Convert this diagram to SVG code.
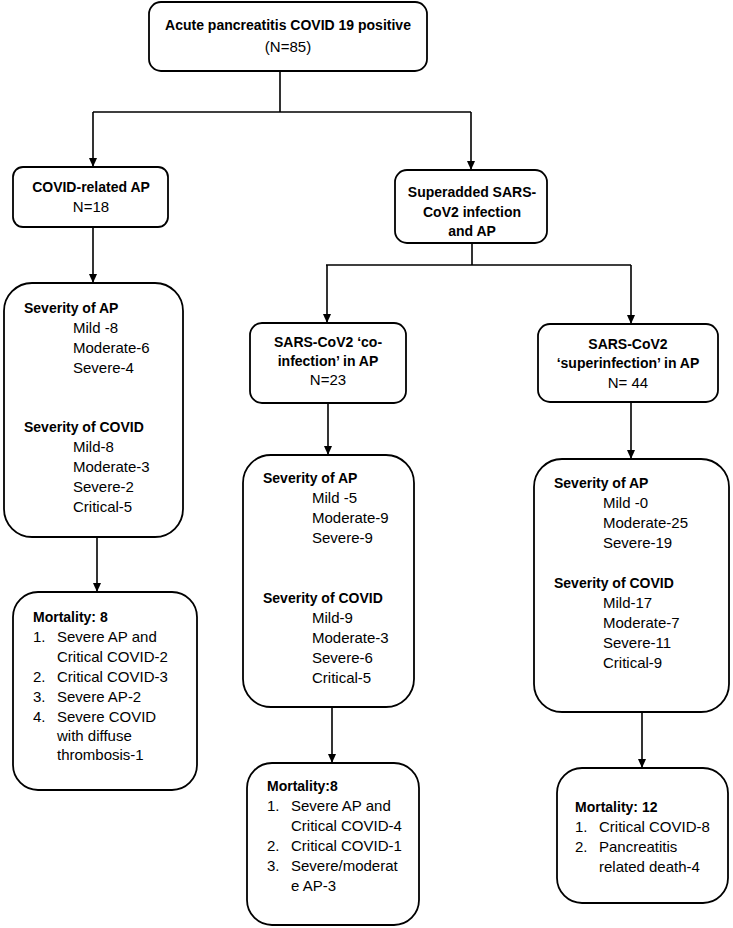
<svg xmlns="http://www.w3.org/2000/svg" width="733" height="928" viewBox="0 0 733 928">
<defs>
<marker id="arr" markerWidth="10" markerHeight="10" refX="9" refY="5" orient="auto" markerUnits="userSpaceOnUse">
<path d="M0,1 L9,5 L0,9 Z" fill="#000"/>
</marker>
<style>
.box{fill:#fff;stroke:#000;stroke-width:1.8}
.ln{fill:none;stroke:#000;stroke-width:1.6}
text{font-family:"Liberation Sans",Arial,sans-serif;font-size:15px;fill:#000}
.b{font-weight:bold;font-size:14px}
.c{text-anchor:middle}
</style>
</defs>
<rect width="733" height="928" fill="#fff"/>
<g id="connectors">
<path class="ln" d="M280,71 V112 M93,112 H471 M472,243 V265 M326,265 H631"/>
<path class="ln" marker-end="url(#arr)" d="M93,112 V167"/>
<path class="ln" marker-end="url(#arr)" d="M471,112 V170"/>
<path class="ln" marker-end="url(#arr)" d="M93,227 V283"/>
<path class="ln" marker-end="url(#arr)" d="M97,537 V592"/>
<path class="ln" marker-end="url(#arr)" d="M327,265 V323"/>
<path class="ln" marker-end="url(#arr)" d="M631,265 V324"/>
<path class="ln" marker-end="url(#arr)" d="M328,403 V455"/>
<path class="ln" marker-end="url(#arr)" d="M332,707 V763"/>
<path class="ln" marker-end="url(#arr)" d="M631,402 V459"/>
<path class="ln" marker-end="url(#arr)" d="M642,712 V768"/>
</g>
<g id="top">
<rect class="box" x="149" y="2" width="278" height="69" rx="12"/>
<text class="b c" x="288" y="30">Acute pancreatitis COVID 19 positive</text>
<text class="c" x="288" y="52">(N=85)</text>
</g>
<g id="covid-related">
<rect class="box" x="13" y="167" width="155" height="60" rx="10"/>
<text class="b c" x="91" y="192">COVID-related AP</text>
<text class="c" x="91" y="212">N=18</text>
</g>
<g id="severity1">
<rect class="box" x="4" y="283" width="179" height="254" rx="28"/>
<text class="b" x="24" y="313">Severity of AP</text>
<text x="73" y="333">Mild -8</text>
<text x="73" y="353">Moderate-6</text>
<text x="73" y="373">Severe-4</text>
<text class="b" x="24" y="432">Severity of COVID</text>
<text x="73" y="452">Mild-8</text>
<text x="73" y="472">Moderate-3</text>
<text x="73" y="492">Severe-2</text>
<text x="73" y="512">Critical-5</text>
</g>
<g id="mortality1">
<rect class="box" x="13" y="592" width="184" height="198" rx="25"/>
<text class="b" x="33" y="622">Mortality: 8</text>
<text x="33" y="642">1.</text><text x="57" y="642">Severe AP and</text>
<text x="57" y="662">Critical COVID-2</text>
<text x="33" y="682">2.</text><text x="57" y="682">Critical COVID-3</text>
<text x="33" y="702">3.</text><text x="57" y="702">Severe AP-2</text>
<text x="33" y="722">4.</text><text x="57" y="722">Severe COVID</text>
<text x="57" y="741">with diffuse</text>
<text x="57" y="760">thrombosis-1</text>
</g>
<g id="superadded">
<rect class="box" x="395" y="170" width="152" height="73" rx="12"/>
<text class="b c" x="472" y="197">Superadded SARS-</text>
<text class="b c" x="472" y="217">CoV2 infection</text>
<text class="b c" x="472" y="236">and AP</text>
</g>
<g id="coinfection">
<rect class="box" x="250" y="323" width="156" height="80" rx="12"/>
<text class="b c" x="328" y="347">SARS-CoV2 ‘co-</text>
<text class="b c" x="328" y="366">infection’ in AP</text>
<text class="c" x="328" y="385">N=23</text>
</g>
<g id="severity2">
<rect class="box" x="243" y="455" width="171" height="252" rx="28"/>
<text class="b" x="263" y="483">Severity of AP</text>
<text x="312" y="503">Mild -5</text>
<text x="312" y="523">Moderate-9</text>
<text x="312" y="543">Severe-9</text>
<text class="b" x="263" y="603">Severity of COVID</text>
<text x="312" y="623">Mild-9</text>
<text x="312" y="643">Moderate-3</text>
<text x="312" y="663">Severe-6</text>
<text x="312" y="683">Critical-5</text>
</g>
<g id="mortality2">
<rect class="box" x="247" y="763" width="172" height="162" rx="25"/>
<text class="b" x="267" y="791">Mortality:8</text>
<text x="267" y="811">1.</text><text x="291" y="811">Severe AP and</text>
<text x="291" y="831">Critical COVID-4</text>
<text x="267" y="851">2.</text><text x="291" y="851">Critical COVID-1</text>
<text x="267" y="871">3.</text><text x="291" y="871">Severe/moderat</text>
<text x="291" y="891">e AP-3</text>
</g>
<g id="superinfection">
<rect class="box" x="538" y="324" width="180" height="78" rx="12"/>
<text class="b c" x="628" y="349">SARS-CoV2</text>
<text class="b c" x="628" y="368">‘superinfection’ in AP</text>
<text class="c" x="628" y="388">N= 44</text>
</g>
<g id="severity3">
<rect class="box" x="534" y="459" width="195" height="253" rx="28"/>
<text class="b" x="554" y="488">Severity of AP</text>
<text x="603" y="508">Mild -0</text>
<text x="603" y="528">Moderate-25</text>
<text x="603" y="548">Severe-19</text>
<text class="b" x="554" y="588">Severity of COVID</text>
<text x="603" y="608">Mild-17</text>
<text x="603" y="628">Moderate-7</text>
<text x="603" y="648">Severe-11</text>
<text x="603" y="668">Critical-9</text>
</g>
<g id="mortality3">
<rect class="box" x="557" y="768" width="171" height="135" rx="25"/>
<text class="b" x="575" y="812">Mortality: 12</text>
<text x="575" y="832">1.</text><text x="599" y="832">Critical COVID-8</text>
<text x="575" y="852">2.</text><text x="599" y="852">Pancreatitis</text>
<text x="599" y="872">related death-4</text>
</g>
</svg>
